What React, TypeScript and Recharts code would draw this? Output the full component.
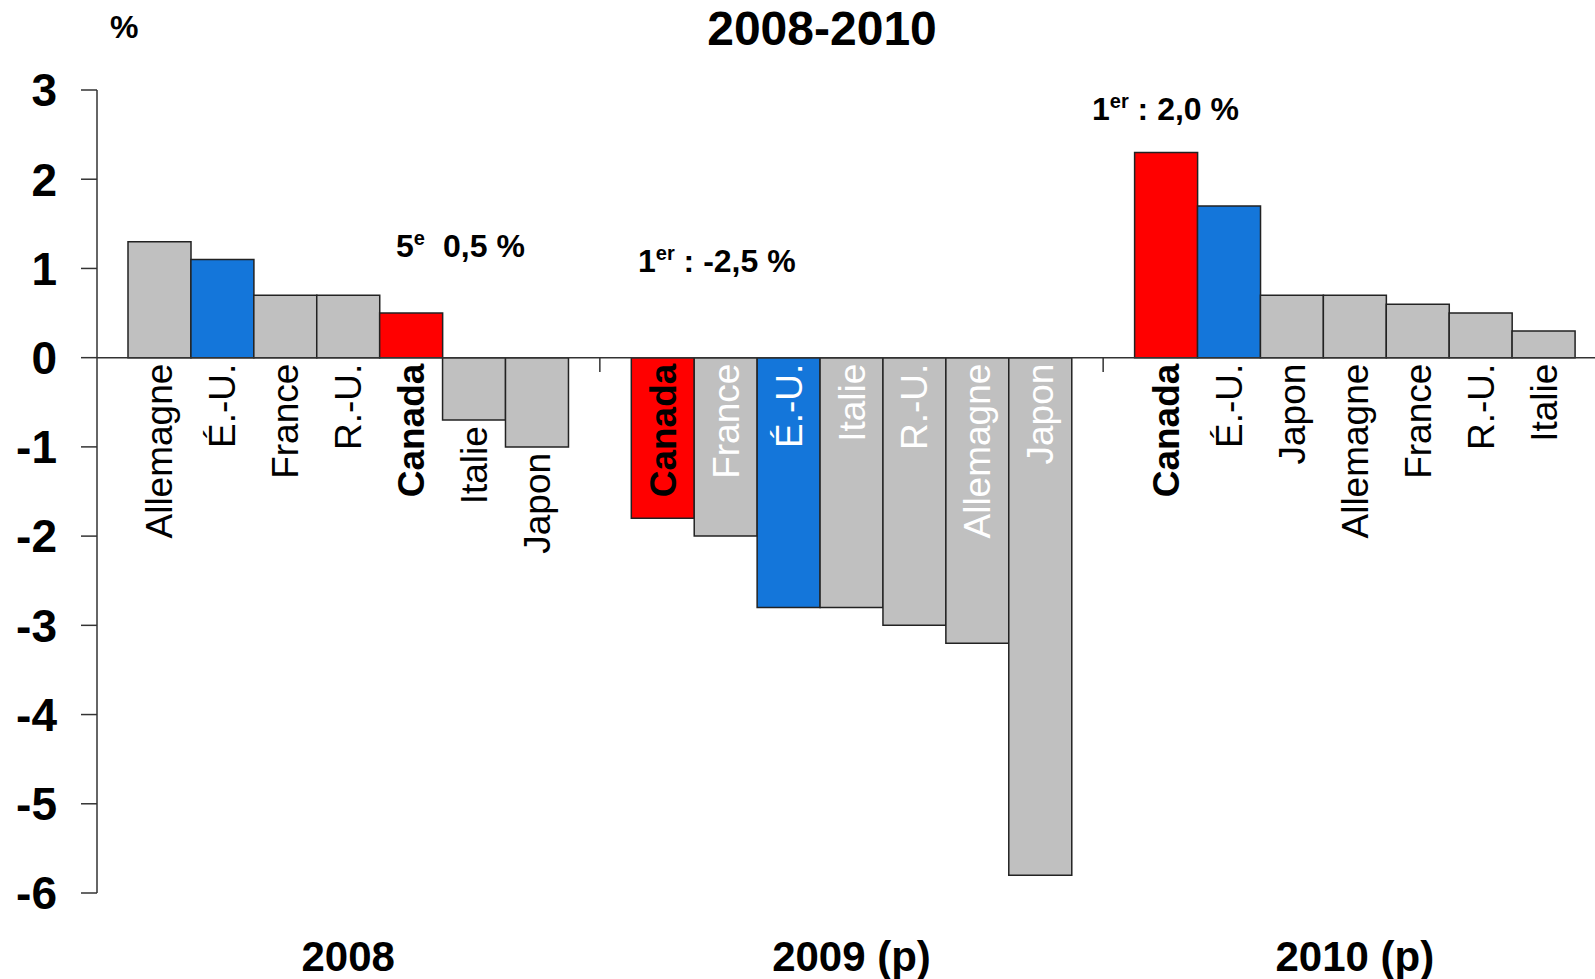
import React from 'react';
import { BarChart, Bar, XAxis, YAxis, Cell, ReferenceLine, LabelList } from 'recharts';

const FONT = '"Liberation Sans", Arial, sans-serif';

const years = ['2008', '2009 (p)', '2010 (p)'];

const countries2008 = ['Allemagne', 'É.-U.', 'France', 'R.-U.', 'Canada', 'Italie', 'Japon'];
const values2008 = [1.3, 1.1, 0.7, 0.7, 0.5, -0.7, -1.0];

const countries2009 = ['Canada', 'France', 'É.-U.', 'Italie', 'R.-U.', 'Allemagne', 'Japon'];
const values2009 = [-1.8, -2.0, -2.8, -2.8, -3.0, -3.2, -5.8];

const countries2010 = ['Canada', 'É.-U.', 'Japon', 'Allemagne', 'France', 'R.-U.', 'Italie'];
const values2010 = [2.3, 1.7, 0.7, 0.7, 0.6, 0.5, 0.3];

const yTicks = [3, 2, 1, 0, -1, -2, -3, -4, -5, -6];

type Row = {
  key: string;
  name: string;
  value: number | null;
  year: string;
  mid: boolean;
};

const groups = [
  { year: years[0], countries: countries2008, values: values2008 },
  { year: years[1], countries: countries2009, values: values2009 },
  { year: years[2], countries: countries2010, values: values2010 },
];

// one empty slot between each year
const rows: Row[] = [];
groups.forEach((g, gi) => {
  if (gi > 0) rows.push({ key: `gap${gi}`, name: '', value: null, year: '', mid: false });
  g.countries.forEach((c, i) =>
    rows.push({ key: `${g.year}-${i}`, name: c, value: g.values[i], year: g.year, mid: i === 3 })
  );
});

const barColor = (name: string) => {
  if (name === 'Canada') return '#ff0000';
  if (name === 'É.-U.') return '#1476da';
  return '#c0c0c0';
};

const BarLabel = (props: any) => {
  const { x, y, width, height, value } = props;
  const row = rows.find((r) => r.key === value);
  if (!row || row.value == null) return null;
  const top = Math.min(y, y + height);
  const bottom = Math.max(y, y + height);
  const zero = row.value >= 0 ? bottom : top;
  // 2009 names sit inside the bars, the others under the bar / axis
  const inside = row.year === years[1];
  const start = (inside || row.value >= 0 ? zero : bottom) + 6;
  const cx = x + width / 2;
  const isCanada = row.name === 'Canada';
  return (
    <text
      x={cx}
      y={start}
      dy={13}
      transform={`rotate(-90 ${cx} ${start})`}
      textAnchor="end"
      fontSize={37}
      fontFamily={FONT}
      fontWeight={isCanada ? 'bold' : 'normal'}
      fill={inside && !isCanada ? '#ffffff' : '#000000'}
    >
      {row.name}
    </text>
  );
};

const YearTick = (props: any) => {
  const { x, y, payload } = props;
  const row = rows.find((r) => r.key === payload.value);
  if (!row || !row.mid) return <g />;
  return (
    <text x={x} y={y} dy={78} textAnchor="middle" fontSize={42} fontWeight="bold" fontFamily={FONT} fill="#000">
      {row.year}
    </text>
  );
};

export default function App() {
  return (
    <div style={{ position: 'absolute', left: 0, top: 0, width: 1595, height: 979, background: '#fff' }}>
      <BarChart
        width={1595}
        height={979}
        data={rows}
        margin={{ top: 90, right: 0, bottom: 0, left: 0 }}
        barCategoryGap={0}
      >
        <XAxis
          dataKey="key"
          type="category"
          interval={0}
          height={86}
          padding={{ left: 31, right: 20 }}
          axisLine={false}
          tickLine={false}
          tickSize={0}
          tickMargin={0}
          tick={<YearTick />}
        />
        <YAxis
          type="number"
          domain={[-6, 3]}
          ticks={yTicks}
          width={97}
          interval={0}
          axisLine={{ stroke: '#333', strokeWidth: 1.5 }}
          tickLine={{ stroke: '#333', strokeWidth: 1.5 }}
          tickSize={16}
          tickMargin={24}
          tick={{ fontSize: 46, fontWeight: 'bold', fill: '#000', fontFamily: FONT }}
        />
        <Bar dataKey="value" isAnimationActive={false} stroke="#222" strokeWidth={1.5}>
          {rows.map((r) => (
            <Cell key={r.key} fill={barColor(r.name)} />
          ))}
          <LabelList dataKey="key" content={BarLabel} />
        </Bar>
        <ReferenceLine y={0} stroke="#333" strokeWidth={1.5} />
        <ReferenceLine segment={[{ x: 'gap1', y: 0 }, { x: 'gap1', y: -0.16 }]} stroke="#333" strokeWidth={1.5} />
        <ReferenceLine segment={[{ x: 'gap2', y: 0 }, { x: 'gap2', y: -0.16 }]} stroke="#333" strokeWidth={1.5} />
      </BarChart>
      <svg
        width={1595}
        height={979}
        style={{ position: 'absolute', left: 0, top: 0, pointerEvents: 'none' }}
        fontFamily={FONT}
        fontWeight="bold"
        fill="#000"
      >
        <text x={822} y={45} textAnchor="middle" fontSize={48}>2008-2010</text>
        <text x={110} y={38} fontSize={32}>%</text>
        <text x={396} y={257} fontSize={32}>
          5<tspan dy={-12} fontSize={20}>e</tspan>
          <tspan x={443} dy={12}>0,5 %</tspan>
        </text>
        <text x={638} y={272} fontSize={32}>
          1<tspan dy={-12} fontSize={20}>er</tspan>
          <tspan dy={12}> : -2,5 %</tspan>
        </text>
        <text x={1092} y={120} fontSize={32}>
          1<tspan dy={-12} fontSize={20}>er</tspan>
          <tspan dy={12}> : 2,0 %</tspan>
        </text>
      </svg>
    </div>
  );
}
